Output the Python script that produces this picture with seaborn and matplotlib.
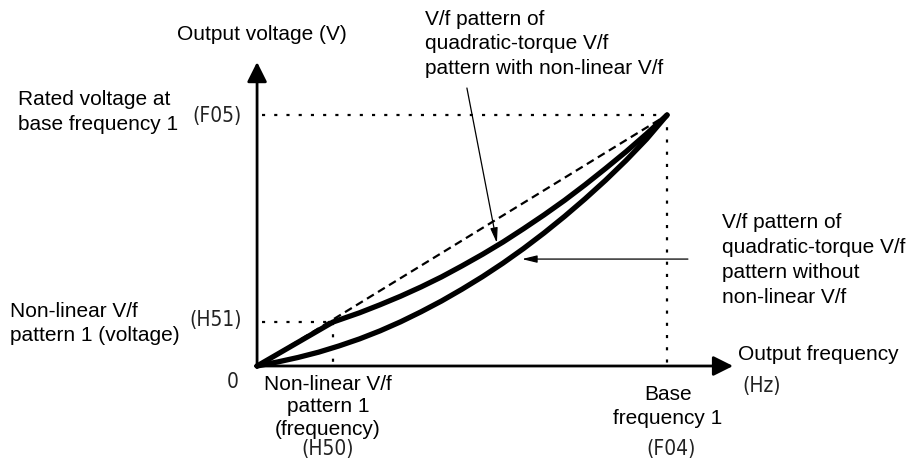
import matplotlib
matplotlib.use("Agg")
import matplotlib.pyplot as plt
import seaborn as sns
from matplotlib import font_manager

# Function-code settings, normalised so that F04 = 1 and F05 = 1
base_freq_f04 = 1.0
rated_volt_f05 = 1.0
nonlin_freq_h50 = 0.185
nonlin_volt_h51 = 0.175

# Quadratic-torque pattern with the non-linear point (H50, H51)
freq_with = [0.0, 0.185, 0.25, 0.30, 0.35, 0.40, 0.45, 0.50, 0.55, 0.60,
             0.65, 0.70, 0.75, 0.80, 0.85, 0.90, 0.95, 1.0]
volt_with = [0.0, 0.175, 0.212, 0.244, 0.278, 0.315, 0.355, 0.399, 0.445, 0.494,
             0.547, 0.602, 0.660, 0.722, 0.787, 0.854, 0.925, 1.0]

# Plain quadratic-torque pattern
freq_without = [0.0, 0.05, 0.10, 0.15, 0.20, 0.25, 0.30, 0.35, 0.40, 0.45, 0.50,
                0.55, 0.60, 0.65, 0.70, 0.75, 0.80, 0.85, 0.90, 0.95, 1.0]
volt_without = [0.0, 0.016, 0.034, 0.055, 0.080, 0.108, 0.140, 0.176, 0.216, 0.259, 0.306,
                0.356, 0.410, 0.468, 0.530, 0.596, 0.666, 0.740, 0.819, 0.904, 1.0]

# Linear V/f reference
linear_freq = [0.0, 1.0]
linear_volt = [0.0, 1.0]

W, H, DPI = 911, 464, 100

sns.set_theme(style="white")
plt.rcParams["font.family"] = ["Liberation Sans", "DejaVu Sans"]


def narrow_font():
    try:
        font_manager.findfont("Liberation Sans Narrow", fallback_to_default=False)
        return dict(family="Liberation Sans Narrow")
    except Exception:
        return dict(family="DejaVu Sans", stretch="condensed")


NARROW = narrow_font()

fig = plt.figure(figsize=(W / DPI, H / DPI), dpi=DPI, facecolor="white")
ax = fig.add_axes([0, 0, 1, 1])
ax.set_xlim(-0.627, 1.595)
ax.set_ylim(-0.3865, 1.4622)
ax.axis("off")

# Axes with arrow heads
x_axis_end = 1.161
y_axis_end = 1.211
axis_arrow = dict(arrowstyle="-|>,head_length=0.6,head_width=0.3", lw=2.0,
                  color="black", mutation_scale=20, shrinkA=0, shrinkB=0)
ax.annotate("", xy=(x_axis_end, 0), xytext=(-0.004, 0), arrowprops=axis_arrow)
ax.annotate("", xy=(0, y_axis_end), xytext=(0, -0.006), arrowprops=axis_arrow)

# Dotted guide lines
dot = dict(color="black", lw=1.6, linestyle=(0, (1.4, 4.1)), dash_capstyle="butt")
ax.plot([0.012, base_freq_f04], [rated_volt_f05, rated_volt_f05], **dot)
ax.plot([base_freq_f04, base_freq_f04], [rated_volt_f05, 0.01], **dot)
ax.plot([0.012, nonlin_freq_h50], [nonlin_volt_h51, nonlin_volt_h51], **dot)
ax.plot([nonlin_freq_h50, nonlin_freq_h50], [nonlin_volt_h51, 0.01], **dot)

# Linear reference (dashed)
sns.lineplot(x=linear_freq, y=linear_volt, ax=ax, color="black", lw=1.6,
             linestyle=(0, (3.6, 2.2)), sort=False, estimator=None)

# Quadratic-torque curves
for fx, vy in [(freq_with, volt_with), (freq_without, volt_without)]:
    sns.lineplot(x=fx, y=vy, ax=ax, color="black", lw=3.8,
                 sort=False, estimator=None)
for ln in ax.lines[-2:]:
    ln.set_solid_capstyle("round")
    ln.set_solid_joinstyle("round")

FS = 15


def place(px_x, px_y, s, **kw):
    ax.text(px_x / W, 1 - px_y / H, s, transform=ax.transAxes, fontsize=FS,
            color="black", **kw)


place(177, 40, "Output voltage (V)", va="baseline", ha="left")
place(18, 90, "Rated voltage at\nbase frequency 1", va="top", ha="left", linespacing=1.41)
place(425, 10, "V/f pattern of\nquadratic-torque V/f\npattern with non-linear V/f",
      va="top", ha="left", linespacing=1.36)
place(722, 213, "V/f pattern of\nquadratic-torque V/f\npattern without\nnon-linear V/f",
      va="top", ha="left", linespacing=1.39)
place(10, 302, "Non-linear V/f\npattern 1 (voltage)", va="top", ha="left", linespacing=1.33)
place(328, 375, "Non-linear V/f\npattern 1\n(frequency)", va="top", ha="center",
      linespacing=1.22)
place(668, 385, "Base\nfrequency 1", va="top", ha="center", linespacing=1.33)
place(738, 345, "Output frequency", va="top", ha="left")

# Function-code labels
code = dict(fontsize=FS, color="#222222", **NARROW)
ax.annotate("(F05)", xy=(0, rated_volt_f05), xytext=(-15, 0), textcoords="offset pixels",
            ha="right", va="center", **code)
ax.annotate("(H51)", xy=(0, nonlin_volt_h51), xytext=(-15, 3), textcoords="offset pixels",
            ha="right", va="center", **code)
ax.annotate("0", xy=(0, 0), xytext=(-24, -15), textcoords="offset pixels",
            ha="center", va="center", **code)
ax.annotate("(H50)", xy=(nonlin_freq_h50, 0), xytext=(-5, -82), textcoords="offset pixels",
            ha="center", va="center", **code)
ax.annotate("(F04)", xy=(base_freq_f04, 0), xytext=(4, -82), textcoords="offset pixels",
            ha="center", va="center", **code)
ax.annotate("(Hz)", xy=(x_axis_end, 0), xytext=(9, -19), textcoords="offset pixels",
            ha="left", va="center", **code)

# Leader arrows pointing at the two curves
leader = dict(arrowstyle="-|>,head_length=0.9,head_width=0.22", lw=0.9, color="black",
              mutation_scale=10, shrinkA=0, shrinkB=0)
ax.annotate("", xy=(0.585, 0.49), xytext=(-30, 155), textcoords="offset pixels",
            arrowprops=leader)
ax.annotate("", xy=(0.646, 0.426), xytext=(166, 0), textcoords="offset pixels",
            arrowprops=leader)

fig.savefig("out.png", dpi=DPI, facecolor="white")
